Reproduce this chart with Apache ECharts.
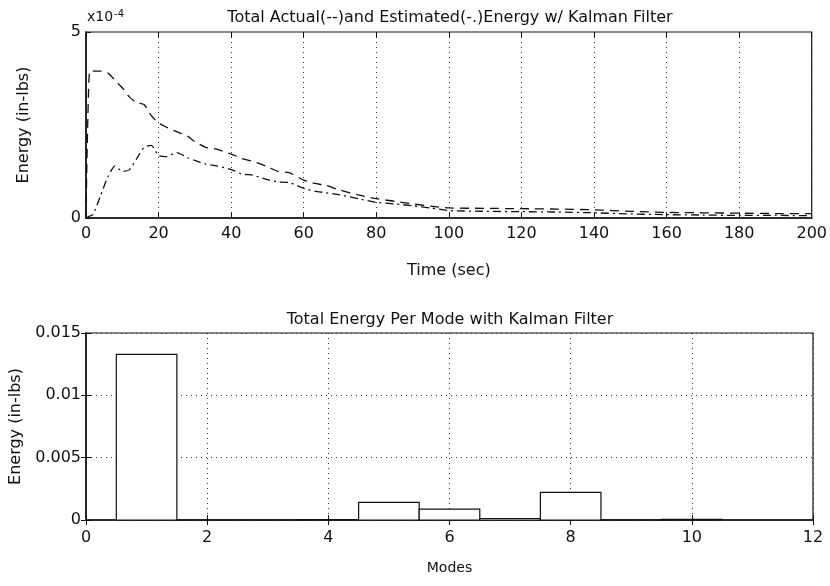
<!DOCTYPE html>
<html>
<head>
<meta charset="utf-8">
<script src="https://cdn.jsdelivr.net/npm/echarts@6/dist/echarts.min.js"></script>
<style>
  html, body { margin: 0; padding: 0; background: #fff; }
  #chart { width: 830px; height: 586px; }
</style>
</head>
<body>
<div id="chart"></div>
<script>
// time (sec)
const timeSec = [0, 1, 2, 4, 6, 8, 10, 12, 14, 16, 18, 20, 22, 25, 28, 30, 33, 36, 40, 43, 46, 50, 53, 56, 60, 63, 66, 70, 75, 80, 85, 90, 95, 100, 110, 120, 130, 140, 150, 160, 170, 180, 190, 200]
// energy in units of 1e-4 in-lbs
const actualEnergy = [0, 3.95, 3.95, 3.95, 3.9, 3.7, 3.5, 3.25, 3.1, 3.05, 2.75, 2.55, 2.45, 2.32, 2.2, 2.05, 1.9, 1.85, 1.72, 1.6, 1.52, 1.38, 1.25, 1.22, 1.02, 0.93, 0.88, 0.75, 0.62, 0.52, 0.45, 0.38, 0.32, 0.27, 0.26, 0.25, 0.24, 0.22, 0.18, 0.15, 0.14, 0.13, 0.12, 0.12]
const estimatedEnergy = [0, 0.05, 0.1, 0.6, 1.1, 1.4, 1.25, 1.3, 1.6, 1.9, 1.95, 1.68, 1.65, 1.76, 1.62, 1.55, 1.45, 1.4, 1.3, 1.18, 1.15, 1.03, 0.97, 0.95, 0.8, 0.72, 0.68, 0.62, 0.52, 0.42, 0.38, 0.33, 0.27, 0.2, 0.18, 0.17, 0.16, 0.14, 0.11, 0.09, 0.08, 0.07, 0.07, 0.06]

// energy per mode (in-lbs)
const modes = [1, 2, 3, 4, 5, 6, 7, 8, 9, 10]
const modeEnergy = [0.01329, 0, 0, 0.00003, 0.00142, 0.00088, 0.00012, 0.00222, 0, 0.00005]

const font = 'DejaVu Sans'
const ink = '#111'

const chart = echarts.init(document.getElementById('chart'))

const tick = { show: true, inside: true, length: 5, lineStyle: { color: ink } }
const dotted = { show: true, lineStyle: { type: [1, 4], color: '#333', width: 1 } }
const label = { color: ink, fontFamily: font, fontSize: 16 }
const titleStyle = { fontFamily: font, fontSize: 16, fontWeight: 'normal', color: ink }

const option = {
  animation: false,
  title: [
    {
      text: 'Total Actual(--)and Estimated(-.)Energy w/ Kalman Filter',
      left: 450, top: 10, textAlign: 'center', padding: 0,
      textStyle: titleStyle
    },
    {
      text: 'Total Energy Per Mode with Kalman Filter',
      left: 450, top: 312, textAlign: 'center', padding: 0,
      textStyle: titleStyle
    }
  ],
  graphic: [
    {
      type: 'text', left: 87, top: 9,
      style: {
        text: '{a|x10}{b|-4}',
        rich: {
          a: { fontFamily: font, fontSize: 14, fill: ink },
          b: { fontFamily: font, fontSize: 10, fill: ink, verticalAlign: 'top', padding: [0, 0, 7, 1] }
        }
      }
    }
  ],
  grid: [
    { left: 86, right: 18, top: 32, height: 186, show: true, borderColor: ink, borderWidth: 1.2 },
    { left: 86, right: 17, top: 333, height: 187, show: true, borderColor: ink, borderWidth: 1.2 }
  ],
  xAxis: [
    {
      gridIndex: 0, type: 'value', min: 0, max: 200, interval: 20,
      name: 'Time (sec)', nameLocation: 'middle', nameGap: 45,
      nameTextStyle: label,
      axisLine: { lineStyle: { color: ink, width: 1.5 } },
      axisTick: tick, axisLabel: Object.assign({ margin: 8 }, label),
      splitLine: dotted
    },
    {
      gridIndex: 1, type: 'value', min: 0, max: 12, interval: 2,
      name: 'Modes', nameLocation: 'middle', nameGap: 41,
      nameTextStyle: Object.assign({}, label, { fontSize: 14 }),
      axisLine: { lineStyle: { color: ink, width: 1.5 } },
      axisTick: tick, axisLabel: Object.assign({ margin: 10 }, label),
      splitLine: dotted
    },
    {
      gridIndex: 0, type: 'value', min: 0, max: 200, interval: 20, position: 'top',
      axisLine: { show: false }, axisTick: tick, axisLabel: { show: false }, splitLine: { show: false }
    },
    {
      gridIndex: 1, type: 'value', min: 0, max: 12, interval: 2, position: 'top',
      axisLine: { show: false }, axisTick: tick, axisLabel: { show: false }, splitLine: { show: false }
    }
  ],
  yAxis: [
    {
      gridIndex: 0, type: 'value', min: 0, max: 5, interval: 5,
      name: 'Energy (in-lbs)', nameLocation: 'middle', nameGap: 54,
      nameTextStyle: label,
      axisLine: { show: true, lineStyle: { color: ink, width: 1.5 } },
      axisTick: tick, axisLabel: Object.assign({ margin: 5 }, label),
      splitLine: { show: false }
    },
    {
      gridIndex: 1, type: 'value', min: 0, max: 0.015, interval: 0.005,
      name: 'Energy (in-lbs)', nameLocation: 'middle', nameGap: 54,
      nameTextStyle: label,
      axisLine: { show: true, lineStyle: { color: ink, width: 1.5 } },
      axisTick: tick, axisLabel: Object.assign({ margin: 5 }, label),
      splitLine: dotted
    },
    {
      gridIndex: 1, type: 'value', min: 0, max: 0.015, interval: 0.005, position: 'right',
      axisLine: { show: false }, axisTick: tick, axisLabel: { show: false }, splitLine: { show: false }
    }
  ],
  series: [
    {
      name: 'Actual', type: 'line', xAxisIndex: 0, yAxisIndex: 0,
      data: timeSec.map((t, i) => [t, actualEnergy[i]]),
      showSymbol: false, smooth: 0.2,
      lineStyle: { color: ink, width: 1.3, type: [9, 6] }
    },
    {
      name: 'Estimated', type: 'line', xAxisIndex: 0, yAxisIndex: 0,
      data: timeSec.map((t, i) => [t, estimatedEnergy[i]]),
      showSymbol: false, smooth: 0.2,
      lineStyle: { color: ink, width: 1.3, type: [8, 4, 2, 4] }
    },
    {
      name: 'Modes', type: 'custom', xAxisIndex: 1, yAxisIndex: 1,
      data: modes.map((m, i) => [m, modeEnergy[i]]),
      renderItem: function (params, api) {
        const m = api.value(0)
        const p0 = api.coord([m - 0.5, api.value(1)])
        const p1 = api.coord([m + 0.5, 0])
        return {
          type: 'rect',
          shape: { x: p0[0], y: p0[1], width: p1[0] - p0[0], height: p1[1] - p0[1] },
          style: { fill: '#fff', stroke: ink, lineWidth: 1.2 }
        }
      }
    }
  ]
}

chart.setOption(option)
</script>
</body>
</html>
